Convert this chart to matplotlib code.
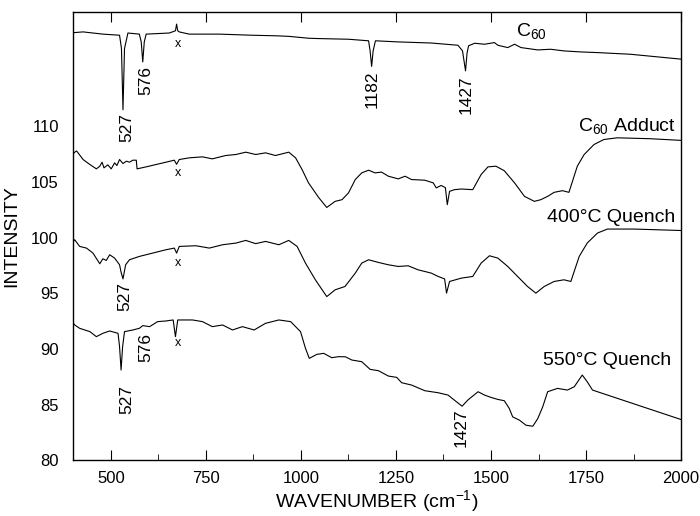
import matplotlib
matplotlib.use("Agg")
import matplotlib.pyplot as plt
from matplotlib.ticker import MultipleLocator

plt.rcParams['font.family'] = ['Liberation Sans', 'DejaVu Sans']
plt.rcParams['mathtext.fontset'] = 'custom'
plt.rcParams['mathtext.rm'] = 'Liberation Sans'
plt.rcParams['mathtext.it'] = 'Liberation Sans:italic'

# traced spectra (wavenumber, intensity)
c60_x = [400, 405, 427, 479, 523, 528, 532, 536, 545, 575, 580, 584, 588, 593, 654,
         670, 673, 676, 680, 706, 785, 871, 934, 968, 1020, 1047, 1125, 1178, 1182,
         1186, 1190, 1196, 1256, 1343, 1413, 1425, 1433, 1437, 1441, 1457, 1483,
         1509, 1518, 1544, 1562, 1579, 1623, 1657, 1692, 1736, 1780, 1867, 2000]
c60_y = [118.45, 118.44, 118.5, 118.3, 118.2, 117.0, 111.5, 117.0, 118.4, 118.3,
         117.6, 115.8, 117.6, 118.3, 118.4, 118.6, 119.2, 118.6, 118.5, 118.3, 118.3,
         118.2, 118.15, 118.1, 117.93, 117.9, 117.84, 117.7, 116.8, 115.4, 116.8,
         117.7, 117.6, 117.5, 117.3, 116.8, 115.0, 116.6, 117.25, 117.48, 117.39,
         117.54, 117.3, 117.09, 117.39, 117.09, 116.88, 116.94, 116.79, 116.7, 116.64,
         116.49, 116.05]

adduct_x = [400, 405, 410, 427, 445, 462, 471, 477, 482, 492, 501, 510, 516, 523, 532,
            541, 549, 558, 567, 569, 593, 619, 645, 667, 673, 680, 706, 741, 767, 802,
            829, 855, 881, 907, 933, 968, 986, 1003, 1020, 1047, 1068, 1090, 1108,
            1125, 1143, 1160, 1178, 1195, 1212, 1230, 1256, 1274, 1291, 1326, 1348,
            1356, 1369, 1380, 1385, 1391, 1404, 1422, 1452, 1474, 1492, 1513, 1535,
            1562, 1588, 1614, 1631, 1649, 1666, 1688, 1705, 1727, 1745, 1771, 1797,
            1832, 1919, 2000]
adduct_y = [107.5, 107.69, 107.8, 107.03, 106.58, 106.19, 106.43, 106.79, 106.28,
            106.55, 106.19, 106.73, 106.49, 107.03, 106.67, 106.88, 106.79, 106.97,
            106.97, 106.19, 106.37, 106.58, 106.79, 106.97, 106.6, 107.03, 107.18,
            107.27, 107.09, 107.39, 107.48, 107.69, 107.48, 107.63, 107.39, 107.69,
            107.18, 106.13, 104.93, 103.6, 102.72, 103.27, 103.42, 104.02, 105.23,
            105.83, 106.07, 105.83, 105.9, 105.53, 105.29, 105.53, 105.23, 105.17,
            104.93, 104.48, 104.7, 104.5, 102.97, 104.17, 104.32, 104.38, 104.32,
            105.68, 106.37, 106.43, 106.02, 104.93, 103.72, 103.27, 103.42, 103.72,
            104.08, 104.23, 104.08, 106.43, 107.48, 108.38, 108.83, 108.98, 108.9,
            108.75]

q400_x = [400, 405, 418, 436, 453, 471, 479, 488, 497, 510, 523, 527, 532, 539, 549,
          575, 610, 645, 667, 673, 680, 724, 759, 794, 829, 855, 881, 907, 942, 968,
          990, 1012, 1038, 1068, 1090, 1116, 1143, 1160, 1178, 1204, 1230, 1256,
          1282, 1308, 1343, 1361, 1378, 1383, 1391, 1422, 1452, 1474, 1496, 1518,
          1544, 1570, 1596, 1618, 1640, 1666, 1692, 1710, 1732, 1753, 1780, 1806,
          1876, 2000]
q400_y = [99.6, 99.82, 99.22, 99.07, 98.62, 97.66, 98.11, 97.96, 98.47, 98.17, 97.57,
          96.9, 96.3, 97.57, 98.02, 98.32, 98.62, 98.92, 99.07, 98.62, 99.22, 99.28,
          99.07, 99.37, 99.52, 99.76, 99.47, 99.67, 99.37, 99.76, 99.22, 97.72,
          96.22, 94.71, 95.32, 95.62, 96.82, 97.72, 98.02, 97.78, 97.57, 97.42,
          97.48, 97.12, 96.82, 96.52, 96.3, 95.02, 96.07, 96.37, 96.52, 97.72, 98.38,
          98.17, 97.42, 96.52, 95.62, 95.02, 95.62, 96.07, 96.22, 96.07, 98.32,
          99.52, 100.42, 100.78, 100.78, 100.65]

q550_x = [400, 405, 418, 445, 462, 479, 497, 519, 523, 527, 531, 536, 558, 575, 584,
          602, 623, 645, 664, 670, 676, 715, 741, 767, 794, 820, 846, 877, 907, 942,
          973, 999, 1012, 1022, 1042, 1060, 1081, 1099, 1117, 1134, 1160, 1182, 1204,
          1230, 1252, 1265, 1291, 1326, 1361, 1387, 1409, 1424, 1439, 1466, 1483,
          1500, 1518, 1535, 1548, 1557, 1575, 1592, 1610, 1623, 1636, 1649, 1675,
          1701, 1719, 1740, 1753, 1767, 1788, 2000]
q550_y = [92.4, 92.16, 91.86, 91.56, 91.11, 91.41, 91.62, 91.41, 90.2, 88.11, 90.2,
          91.56, 91.71, 91.86, 92.1, 92.01, 92.46, 92.52, 92.61, 91.11, 92.61, 92.61,
          92.46, 92.01, 92.16, 91.71, 92.01, 91.71, 92.31, 92.61, 92.46, 91.56,
          90.06, 89.16, 89.52, 89.61, 89.22, 89.31, 89.3, 89.01, 88.86, 88.17,
          88.05, 87.57, 87.45, 86.97, 86.76, 86.25, 86.07, 85.86, 85.26, 84.86,
          85.41, 86.16, 85.86, 85.65, 85.47, 85.35, 84.66, 83.9, 83.6, 83.15, 83.06,
          83.75, 84.8, 86.16, 86.46, 86.31, 86.61, 87.66, 87.06, 86.31, 86.07, 83.66]

spectra = [(c60_x, c60_y), (adduct_x, adduct_y), (q400_x, q400_y), (q550_x, q550_y)]

# curve labels (text, x, y, alignment)
curve_labels = [(r"C$_{\mathrm{60}}$", 1565, 118.6, 'left'),
                (r"C$_{\mathrm{60}}$ Adduct", 1985, 110.0, 'right'),
                ("400°C Quench", 1985, 101.8, 'right'),
                ("550°C Quench", 1975, 89.0, 'right')]

# peak annotations (text, x, top y)
peak_labels = [("527", 542, 111.2), ("576", 592, 115.4), ("1182", 1188, 115.0),
               ("1427", 1434, 114.6), ("527", 537, 96.0), ("527", 543, 86.8),
               ("576", 592, 91.4), ("1427", 1422, 84.7)]

# impurity markers (x, y)
x_marks = [(677, 117.4), (677, 105.8), (677, 97.7), (677, 90.5)]

fig = plt.figure(figsize=(7.0, 5.16), dpi=100)
ax = fig.add_axes([0.104, 0.108, 0.869, 0.869])

for xs, ys in spectra:
    ax.plot(xs, ys, color='black', linewidth=0.8)

for txt, x, y, ha in curve_labels:
    ax.text(x, y, txt, ha=ha, va='center', fontsize=14)

for txt, x, y in peak_labels:
    ax.text(x, y, txt, rotation=90, ha='center', va='top', fontsize=12.5)

for x, y in x_marks:
    ax.text(x, y, "x", ha='center', va='center', fontsize=9)

ax.set_xlim(400, 2000)
ax.set_ylim(80, 120.3)
ax.set_xticks([500, 750, 1000, 1250, 1500, 1750, 2000])
ax.xaxis.set_minor_locator(MultipleLocator(125))
ax.set_yticks([80, 85, 90, 95, 100, 105, 110])
ax.tick_params(axis='x', which='major', direction='in', length=7, top=True,
               labelsize=12, pad=8)
ax.tick_params(axis='x', which='minor', direction='in', length=4, top=False)
ax.tick_params(axis='y', direction='in', length=0, labelsize=12, pad=10)

ax.set_xlabel(r"WAVENUMBER (cm$^{\mathrm{-1}}$)", fontsize=14, labelpad=1)
ax.set_ylabel("INTENSITY", fontsize=14, labelpad=8)

for s in ax.spines.values():
    s.set_linewidth(1.0)

fig.savefig("out.png", dpi=100)
